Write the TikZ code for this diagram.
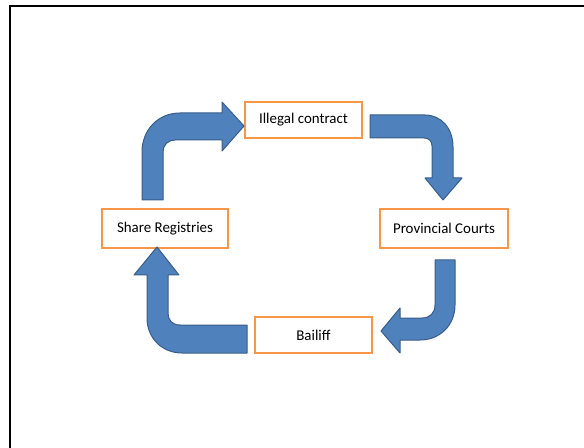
\documentclass[tikz,border=0pt]{standalone}
\usepackage{fontspec}
\setmainfont{Carlito}
\definecolor{arrowfill}{HTML}{4F81BD}
\definecolor{arrowline}{HTML}{385D8A}
\definecolor{boxline}{HTML}{F79646}
\begin{document}
\begin{tikzpicture}[x=0.75pt,y=-0.75pt,
  stagebox/.style={draw=boxline,line width=1.5pt,fill=white,inner sep=0pt,font=\fontsize{11.2}{13}\selectfont},
  blockarrow/.style={fill=arrowfill,draw=arrowline,line width=0.75pt,line join=round}]
\useasboundingbox (0,0) rectangle (584,448);
\draw[line width=1.6pt] (584,6) -- (10,6) -- (10,448);
% stages
\node[stagebox,minimum width=87.75pt,minimum height=27pt] (illegal) at (303.5,120) {Illegal contract};
\node[stagebox,minimum width=94.5pt,minimum height=29.25pt] (share) at (165,228.5) {Share Registries};
\node[stagebox,minimum width=96pt,minimum height=29.25pt] (courts) at (444,228.5) {Provincial Courts};
\node[stagebox,minimum width=87.75pt,minimum height=27pt] (bailiff) at (313.5,335) {Bailiff};
% bent block arrows
\draw[blockarrow] (142,200) -- (142,152) .. controls (142,130) and (158,113) .. (180,113)
  -- (222,113) -- (222,102) -- (244,126) -- (222,151) -- (222,140) -- (175,140)
  .. controls (168,140) and (163,145) .. (163,152) -- (163,200) -- cycle;
\draw[blockarrow] (370,115) -- (425,115) .. controls (441,115) and (453,128) .. (453,147)
  -- (453,178) -- (462,178) -- (443,200) -- (425,178) -- (432,178) -- (432,146)
  .. controls (432,141) and (429,138) .. (424,138) -- (370,138) -- cycle;
\draw[blockarrow] (435,260) -- (455,260) -- (455,305) .. controls (455,325) and (440,340) .. (420,340)
  -- (400,340) -- (400,353) -- (381,331) -- (400,308) -- (400,318) -- (422,318)
  .. controls (430,318) and (435,313) .. (435,305) -- cycle;
\draw[blockarrow] (247,325) -- (247,353) -- (182,353) .. controls (162,353) and (147,338) .. (147,318)
  -- (147,275) -- (134,275) -- (157,247) -- (179,275) -- (168,275) -- (168,313)
  .. controls (168,320) and (172,325) .. (180,325) -- cycle;
\end{tikzpicture}
\end{document}
